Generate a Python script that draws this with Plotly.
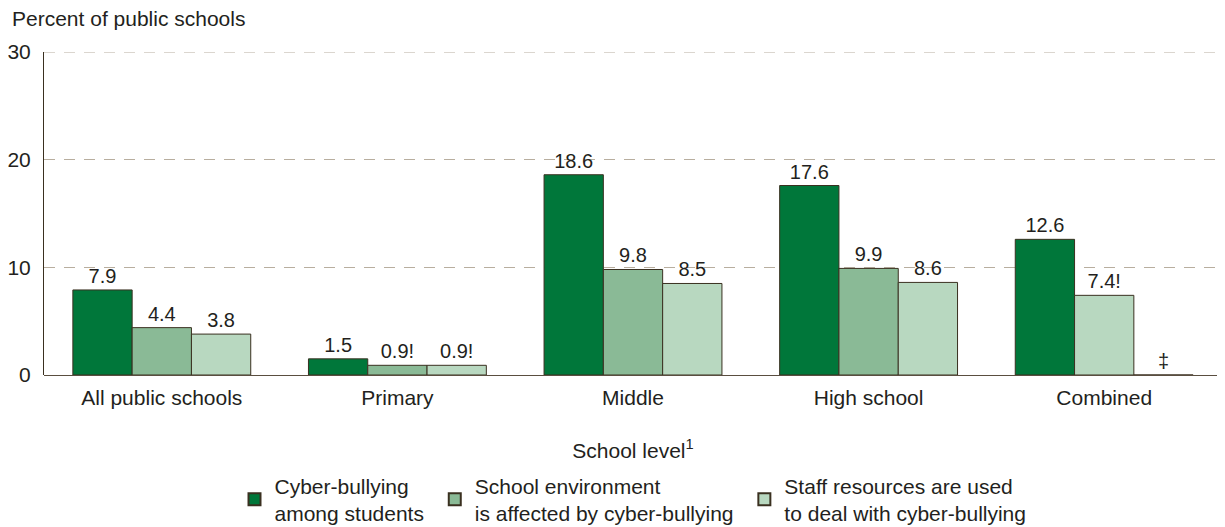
import plotly.graph_objects as go

levels = ["All public schools", "Primary", "Middle", "High school", "Combined"]
series_names = [
    ["Cyber-bullying", "among students"],
    ["School environment", "is affected by cyber-bullying"],
    ["Staff resources are used", "to deal with cyber-bullying"],
]
cyber_among = [7.9, 1.5, 18.6, 17.6, 12.6]
environment = [4.4, 0.9, 9.8, 9.9, 7.4]
staff = [3.8, 0.9, 8.5, 8.6, None]

among_labels = ["7.9", "1.5", "18.6", "17.6", "12.6"]
environment_labels = ["4.4", "0.9!", "9.8", "9.9", "7.4!"]
staff_labels = ["3.8", "0.9!", "8.5", "8.6", "‡"]

dark = "#00773a"
mid = "#8aba96"
light = "#b8d8c0"
edge = "#3a3020"
ink = "#231f20"
grid = "#b8ae9f"
dash = "11px,9px"
font = "Liberation Sans, Arial, sans-serif"
fs = 21


def legend_name(lines, pad):
    # pad each line with non-breaking spaces so legend entries sit a bit further apart
    return "<br>".join(line + "\u00a0" * pad for line in lines)


fig = go.Figure()

fig.add_trace(go.Bar(x=levels, y=cyber_among, name=legend_name(series_names[0], 1), text=among_labels,
                     marker=dict(color=dark, line=dict(color=edge, width=1))))
# the original draws the Combined bar of this series in the lighter shade
fig.add_trace(go.Bar(x=levels, y=environment, name=legend_name(series_names[1], 1), text=environment_labels,
                     marker=dict(color=[mid, mid, mid, mid, light], line=dict(color=edge, width=1))))
fig.add_trace(go.Bar(x=levels, y=[v if v is not None else 0 for v in staff], name=legend_name(series_names[2], 0),
                     text=staff_labels,
                     marker=dict(color=light, line=dict(color=edge, width=1))))

fig.update_traces(textposition="outside", cliponaxis=False,
                  textfont=dict(family=font, size=20, color=ink))

# top gridline at 30 (plotly skips the one at the range edge)
fig.add_hline(y=30, line=dict(color=grid, width=1, dash=dash), layer="below")

# the page adds an 8px body margin, so the figure is a little smaller than the window
fig.update_layout(
    width=1217, height=519,
    margin=dict(l=36, r=3, t=44, b=152, autoexpand=False),
    plot_bgcolor="white", paper_bgcolor="white",
    barmode="group", bargap=0.245, bargroupgap=0,
    font=dict(family=font, size=fs, color=ink),
    xaxis=dict(showline=False, ticks="", ticklabelstandoff=8, automargin=False,
               tickfont=dict(size=fs, color=ink),
               title=dict(text="School level<sup>1</sup>", font=dict(size=fs, color=ink), standoff=35)),
    yaxis=dict(range=[0, 30], tickvals=[0, 10, 20, 30], showgrid=True, griddash=dash,
               gridcolor=grid, gridwidth=1, zeroline=True, zerolinecolor="#5a4e40",
               zerolinewidth=1, showline=True, linecolor=edge, linewidth=1, automargin=False,
               ticks="", ticklabelstandoff=8, tickfont=dict(size=fs, color=ink)),
    legend=dict(orientation="h", x=0.5, xanchor="center", y=-0.28, yanchor="top",
                font=dict(size=fs, color=ink), traceorder="normal", itemsizing="constant"),
    annotations=[dict(text="Percent of public schools", x=0, xref="paper", xshift=-34,
                      y=1, yref="paper", yshift=34, showarrow=False, xanchor="left",
                      yanchor="middle", font=dict(size=fs, color=ink))],
)

fig.write_html("out.html")
